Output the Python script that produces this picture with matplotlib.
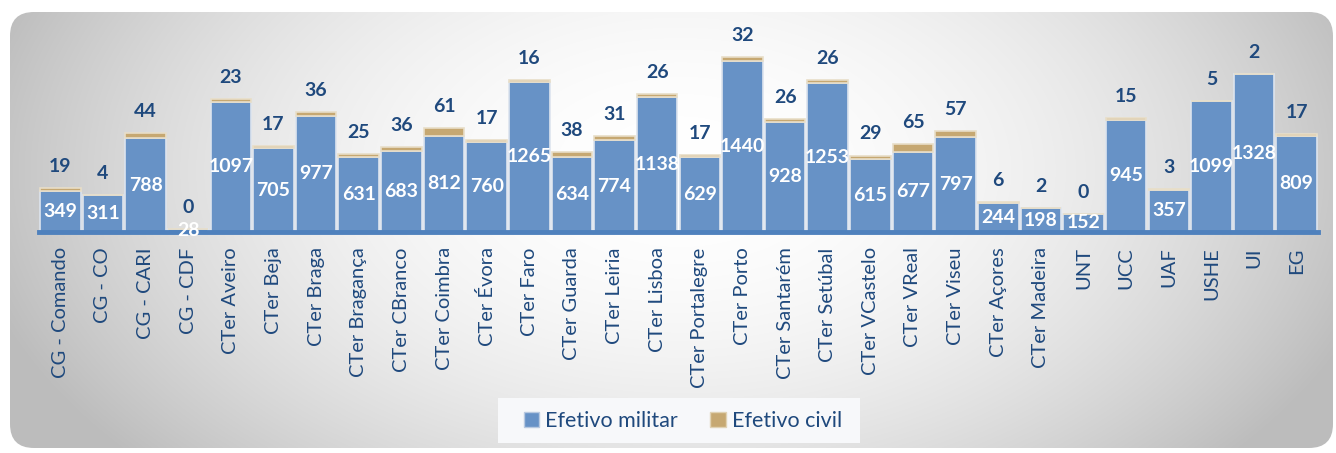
import matplotlib
matplotlib.use("Agg")
from matplotlib import pyplot as plt
from matplotlib.patches import FancyBboxPatch, Rectangle, Patch
import numpy as np

categorias = ["CG - Comando", "CG - CO", "CG - CARI", "CG - CDF", "CTer Aveiro", "CTer Beja",
              "CTer Braga", "CTer Bragança", "CTer CBranco", "CTer Coimbra", "CTer Évora",
              "CTer Faro", "CTer Guarda", "CTer Leiria", "CTer Lisboa", "CTer Portalegre",
              "CTer Porto", "CTer Santarém", "CTer Setúbal", "CTer VCastelo", "CTer VReal",
              "CTer Viseu", "CTer Açores", "CTer Madeira", "UNT", "UCC", "UAF", "USHE", "UI", "EG"]
militar = [349, 311, 788, 28, 1097, 705, 977, 631, 683, 812, 760, 1265, 634, 774, 1138, 629,
           1440, 928, 1253, 615, 677, 797, 244, 198, 152, 945, 357, 1099, 1328, 809]
civil = [19, 4, 44, 0, 23, 17, 36, 25, 36, 61, 17, 16, 38, 31, 26, 17,
         32, 26, 26, 29, 65, 57, 6, 2, 0, 15, 3, 5, 2, 17]

azul = "#6792C6"
bege = "#C6A872"
texto = "#1F497D"
W, H = 1336, 453

plt.rcParams['font.family'] = ['Lato', 'DejaVu Sans']
fig = plt.figure(figsize=(W / 100, H / 100), dpi=100)

# fundo com gradiente e cantos arredondados
bg = fig.add_axes([0, 0, 1, 1], zorder=-1)
bg.set_xlim(0, W)
bg.set_ylim(H, 0)
bg.axis("off")
yy, xx = np.mgrid[0:H, 0:W]
d = np.sqrt(((xx - 680) / 720.0) ** 2 + ((yy - 170) / 440.0) ** 2)
v = np.clip(1 - 0.26 * d ** 2, 0.74, 1.0)
img = np.dstack([v, v, v])
im = bg.imshow(img, extent=(0, W, H, 0), aspect="auto", interpolation="bilinear")
caixa = FancyBboxPatch((10, 12), 1323, 436, boxstyle="round,pad=0,rounding_size=24",
                       transform=bg.transData, facecolor="none", edgecolor="none")
bg.add_patch(caixa)
im.set_clip_path(caixa)
bg.add_patch(Rectangle((498, 398), 362, 45, facecolor="#F7F8FA", edgecolor="none"))

ax = fig.add_axes([39 / W, 1 - 232 / H, (1318 - 39) / W, (232 - 20) / H])
ax.patch.set_alpha(0)
x = np.arange(len(categorias))
tot = np.array(militar) + np.array(civil)
ax.bar(x, militar, width=0.95, color=azul, edgecolor="#DDE4EE", linewidth=1.2, zorder=2)
ax.bar(x, civil, bottom=militar, width=0.95, color=bege, edgecolor="#E8DEC8", linewidth=1.2, zorder=2)

for i in range(len(x)):
    ax.text(x[i], militar[i] / 2, str(militar[i]), ha="center", va="center", color="white",
            fontsize=14, fontweight="bold", zorder=5)
    ax.annotate(str(civil[i]), (x[i], tot[i]), xytext=(0, 15.5), textcoords="offset points",
                ha="center", va="center", color=texto, fontsize=14, fontweight="bold")

ax.set_xlim(-0.5, len(x) - 0.5)
ax.set_ylim(0, 1785)
ax.set_yticks([])
for s in ["left", "right", "top"]:
    ax.spines[s].set_visible(False)
ax.spines["bottom"].set_color("#4F81BD")
ax.spines["bottom"].set_linewidth(3.5)
ax.spines["bottom"].set_zorder(4)
ax.set_xticks(x)
ax.set_xticklabels(categorias, rotation=90, color=texto, fontsize=14.5)
ax.tick_params(axis="x", which="major", length=0, pad=11)
ax.set_xticks(x[:-1] + 0.5, minor=True)
ax.tick_params(axis="x", which="minor", length=3, width=1, color="#DDE4EE", direction="inout")

fig.legend(handles=[Patch(facecolor=azul, edgecolor="#B8C9E0", label="Efetivo militar"),
                    Patch(facecolor=bege, edgecolor="#E0D2B4", label="Efetivo civil")],
           loc="center", bbox_to_anchor=(683 / W, 1 - 421 / H), ncol=2, frameon=False,
           fontsize=15.5, labelcolor=texto, handlelength=0.7, handleheight=0.7,
           handletextpad=0.3, columnspacing=1.5)

fig.savefig("out.png", dpi=100)
